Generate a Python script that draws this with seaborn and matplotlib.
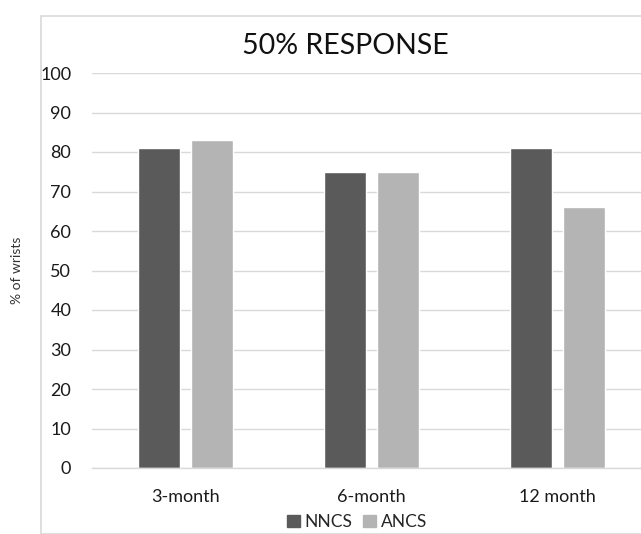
import matplotlib
matplotlib.use("Agg")
import matplotlib.pyplot as plt
import matplotlib.patches as mpatches
import seaborn as sns
import pandas as pd

# DATA
periods = ["3-month", "6-month", "12 month"]
groups = ["NNCS", "ANCS"]
nncs = [81, 75, 81]
ancs = [83, 75, 66]
colors = ["#5a5a5a", "#b4b4b4"]

df = pd.DataFrame({
    "period": periods * 2,
    "group": [groups[0]] * 3 + [groups[1]] * 3,
    "value": nncs + ancs,
})

sns.set_theme(style="white")
plt.rcParams["font.family"] = ["Lato", "DejaVu Sans"]

fig = plt.figure(figsize=(6.41, 5.34), dpi=100)
W, H = 641, 534

# chart frame (light border, cut off at right and bottom)
frame = mpatches.Rectangle((41 / W, 0), 1.0, 1 - 16 / H, transform=fig.transFigure,
                           fill=False, edgecolor="#d9d9d9", linewidth=1.2)
fig.patches.append(frame)

ax = fig.add_axes([92 / W, 1 - 468 / H, (651 - 92) / W, (468 - 73) / H])
sns.barplot(data=df, x="period", y="value", hue="group", palette=colors,
            width=0.57, gap=0.21, ax=ax, legend=False, saturation=1)

ax.set_xlim(-0.5, 2.5)
ax.set_ylim(0, 100)
ax.set_yticks(range(0, 101, 10))
ax.yaxis.grid(True, color="#d9d9d9", linewidth=1)
ax.set_axisbelow(True)
for s in ["top", "right", "left"]:
    ax.spines[s].set_visible(False)
ax.spines["bottom"].set_color("#d9d9d9")
ax.spines["bottom"].set_linewidth(1)
ax.tick_params(axis="both", length=0, labelsize=13, colors="#1a1a1a")
ax.tick_params(axis="x", pad=15)
ax.tick_params(axis="y", pad=15)
ax.set_xlabel("")
ax.set_ylabel("")

fig.text(17 / W, 1 - 270 / H, "% of wrists", rotation=90, ha="center", va="center",
         fontsize=10, color="#333333")
fig.text(345 / W, 1 - 46 / H, "50% RESPONSE", ha="center", va="center",
         fontsize=20.5, color="#111111")

handles = [mpatches.Patch(color=c, label=g) for g, c in zip(groups, colors)]
fig.legend(handles=handles, loc="center", bbox_to_anchor=(357 / W, 1 - 522 / H),
           ncol=2, frameon=False, fontsize=12.5, handlelength=0.75, handleheight=0.75,
           handletextpad=0.3, columnspacing=0.6, borderaxespad=0)

fig.savefig("out.png", dpi=100)
